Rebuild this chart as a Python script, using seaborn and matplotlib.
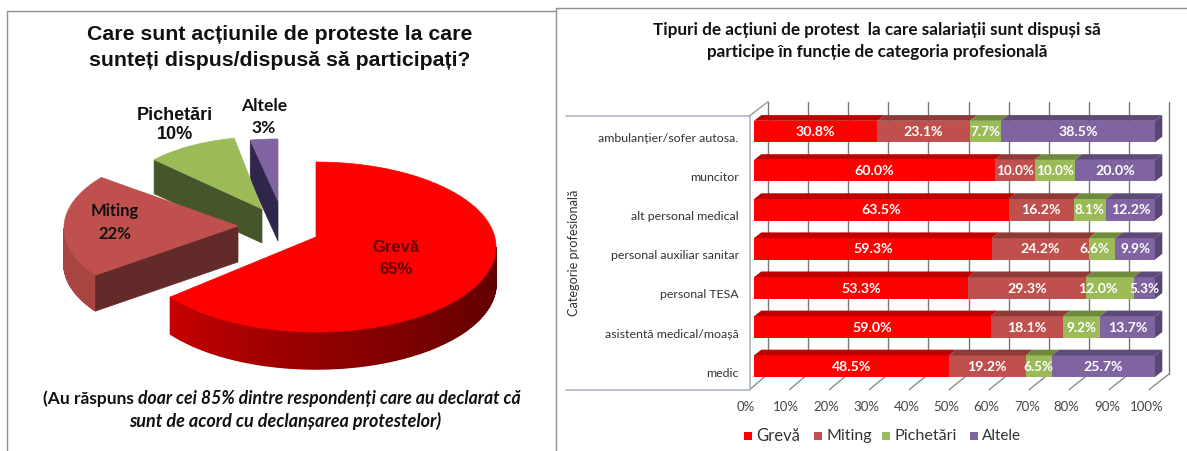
import numpy as np
import matplotlib
matplotlib.use('Agg')
import matplotlib.pyplot as plt
import seaborn as sns
from matplotlib.patches import Polygon, Rectangle
from matplotlib.transforms import ScaledTranslation

# Data
pie_labels = ['Grevă', 'Miting', 'Pichetări', 'Altele']
pie_values = [65, 22, 10, 3]

categories = ['ambulanțier/sofer autosa.', 'muncitor', 'alt personal medical',
              'personal auxiliar sanitar', 'personal TESA',
              'asistentă medical/moașă', 'medic']
greva = [30.8, 60.0, 63.5, 59.3, 53.3, 59.0, 48.5]
miting = [23.1, 10.0, 16.2, 24.2, 29.3, 18.1, 19.2]
pichetari = [7.7, 10.0, 8.1, 6.6, 12.0, 9.2, 6.5]
altele = [38.5, 20.0, 12.2, 9.9, 5.3, 13.7, 25.7]
x_ticks = [0, 10, 20, 30, 40, 50, 60, 70, 80, 90, 100]

series = [greva, miting, pichetari, altele]
colors = ['#ff0000', '#c0504d', '#9bbb59', '#8064a2']
tops = ['#c00000', '#8e3a38', '#6f8a3c', '#5e4a78']
cuts = [None, '#622a28', '#46562a', '#30254a']
rims = [None, '#a84542', '#46562a', '#30254a']

W, H = 1187, 452
sns.set_theme(style='white')
plt.rcParams['font.family'] = ['Lato', 'DejaVu Sans']
fig = plt.figure(figsize=(W / 100, H / 100), dpi=100)

# overlay in pixel coordinates for frames, walls and the pie
bg = fig.add_axes([0, 0, 1, 1], zorder=0)
bg.set_xlim(0, W)
bg.set_ylim(H, 0)
bg.axis('off')

# panel frames
bg.plot([6.5, 6.5, 555.5], [H, 11.5, 11.5], color='#909090', lw=1)
bg.plot([555.5, 555.5, W], [H, 8.5, 8.5], color='#909090', lw=1)


# pie slices
def arc(cx, cy, rx, ry, a, b, n=80):
    t = np.radians(np.linspace(a, b, n))
    return np.column_stack([cx + rx * np.sin(t), cy - ry * np.cos(t)])


# trim = the perspective squeezes the far end of a slice
slices = [
    dict(apex=(316, 238), c=(316, 248), rx=180, ry=85, depth=37, trim=0),
    dict(apex=(238, 227), c=(230, 229), rx=166, ry=80, depth=36, trim=4),
    dict(apex=(262, 210), c=(262, 210), rx=148, ry=72, depth=34, trim=0),
    dict(apex=(278, 202), c=(278, 202), rx=148, ry=62, depth=40, trim=0),
]
angles = np.cumsum([0] + pie_values) * 3.6

for i in [3, 2, 1, 0]:
    s = slices[i]
    a, b = angles[i], angles[i + 1] - s['trim']
    ax0, ay0 = s['apex']
    cx, cy = s['c']
    pts = arc(cx, cy, s['rx'], s['ry'], a, b)
    d = s['depth']

    # outer rim, only on the front half of the ellipse
    lo, hi = max(a, 90), min(b, 270)
    if lo < hi:
        rim = arc(cx, cy, s['rx'], s['ry'], lo, hi, 160)
        for k in range(len(rim) - 1):
            if i == 0:
                f = k / (len(rim) - 2)
                col = (0.38 + 0.40 * f ** 1.5, 0, 0)
            else:
                col = rims[i]
            quad = [rim[k], rim[k + 1], rim[k + 1] + [0, d], rim[k] + [0, d]]
            bg.add_patch(Polygon(quad, fc=col, ec=col, lw=1))

    # cut face on the start edge
    if cuts[i]:
        p = pts[0]
        quad = [(ax0, ay0), p, p + [0, d], (ax0, ay0 + d)]
        bg.add_patch(Polygon(quad, fc=cuts[i], ec=cuts[i], lw=0.5))

    bg.add_patch(Polygon(np.vstack([[ax0, ay0], pts]), fc=colors[i], ec=colors[i], lw=0.5))

# pie labels
pie_text = [(396, 248, 270), (115, 211, 234), (175, 115, 135), (264, 106, 128)]
pie_size = [12, 12, 13, 12.5]
for name, v, (x, y1, y2), fs in zip(pie_labels, pie_values, pie_text, pie_size):
    fam = ['Liberation Sans', 'DejaVu Sans'] if name in ['Grevă', 'Pichetări'] else ['Lato', 'DejaVu Sans']
    tc = '#640000' if name == 'Grevă' else '#111111'
    bg.text(x, y1, name, ha='center', va='center', fontsize=fs, family=fam, color=tc, fontweight='bold')
    bg.text(x, y2, f'{v}%', ha='center', va='center', fontsize=fs, family=fam, color=tc, fontweight='bold')

# left texts
arial = ['Liberation Sans', 'DejaVu Sans']
bg.text(280, 35, 'Care sunt acțiunile de proteste la care', ha='center', va='center',
        fontsize=15.3, fontweight='bold', family=arial, color='#111111')
bg.text(280, 60, 'sunteți dispus/dispusă să participați?', ha='center', va='center',
        fontsize=15.3, fontweight='bold', family=arial, color='#111111')
bg.text(43, 399, '(Au răspuns', ha='left', va='center', fontsize=12.5, fontweight='bold', color='#111111')
bg.text(138, 399, 'doar cei 85% dintre respondenți care au declarat că', ha='left', va='center',
        fontsize=12.7, fontweight='bold', style='italic', color='#111111')
bg.text(285, 421, 'sunt de acord cu declanșarea protestelor)', ha='center', va='center',
        fontsize=13, fontweight='bold', style='italic', color='#111111')

# right title
bg.text(877, 30, 'Tipuri de acțiuni de protest  la care salariații sunt dispuși să', ha='center', va='center',
        fontsize=12.3, fontweight='bold', color='#111111')
bg.text(877, 52, 'participe în funcție de categoria profesională', ha='center', va='center',
        fontsize=12.3, fontweight='bold', color='#111111')

# 3D box behind the bars
x0, x1 = 749.5, 1149.0
bx0, bx1 = 768.0, 1169.0
top_f, bot_f = 117.0, 390.7
top_b, bot_b = 102.7, 375.0
for v in x_ticks:
    xf = x0 + (x1 - x0) * v / 100
    xb = bx0 + (bx1 - bx0) * v / 100
    bg.plot([xb, xb], [top_b, bot_b], color='#777777', lw=1)
    bg.plot([xf, xb], [bot_f, bot_b], color='#8c8c8c', lw=1)
bg.plot([566, x0, x0], [top_f, top_f, bot_f], color='#b0b8c4', lw=1.2)
bg.plot([566, x0], [bot_f, bot_f], color='#b0b8c4', lw=1.2)
bg.plot([x0, bx0], [top_f, top_b], color='#999999', lw=1)

# bars
ax = fig.add_axes([754 / W, 1 - 386.7 / H, 401 / W, (386.7 - 113) / H], zorder=1)
ax.patch.set_visible(False)
left = np.zeros(len(categories))
totals = np.sum(series, axis=0)
for vals, col in zip(series, colors):
    shares = np.array(vals) / totals * 100
    sns.barplot(x=shares, y=categories, left=left, color=col, width=0.55, orient='h',
                errorbar=None, saturation=1, linewidth=0, ax=ax)
    left += shares
ax.set_xlim(0, 100)
ax.set_ylim(6.5, -0.5)
sns.despine(ax=ax, left=True, bottom=True)

# bar depth and value labels
dx = 7.3 / 4.01
dy = 5.7 / 39.1
n_series = len(series)
label_shift = {(2, 3): -2, (2, 4): -3}
for j, bar in enumerate(ax.patches):
    s_i = j // len(categories)
    c_i = j % len(categories)
    bx, by, bw, bh = bar.get_x(), bar.get_y(), bar.get_width(), bar.get_height()
    top = [(bx, by), (bx + bw, by), (bx + bw + dx, by - dy), (bx + dx, by - dy)]
    ax.add_patch(Polygon(top, fc=tops[s_i], ec='none', clip_on=False))
    if s_i == n_series - 1:
        side = [(bx + bw, by), (bx + bw + dx, by - dy), (bx + bw + dx, by + bh - dy), (bx + bw, by + bh)]
        ax.add_patch(Polygon(side, fc='#5a4672', ec='none', clip_on=False))
    raw = series[s_i][c_i]
    ax.text(bx + bw / 2 + label_shift.get((s_i, c_i), 0), by + bh / 2 - 0.01, f'{raw:.1f}%',
            ha='center', va='center', color='white', fontweight='bold',
            fontsize=9.7 if bw < 12 else 10.2, clip_on=False)

# axis text
ax.set_xlabel('')
ax.set_ylabel('')
ax.set_xticks(x_ticks)
ax.set_xticklabels([f'{v}%' for v in x_ticks], fontsize=9.5, color='#444444')
ax.tick_params(axis='both', length=0)
ax.tick_params(axis='x', pad=10)
ax.tick_params(axis='y', pad=11, labelsize=8.9, labelcolor='#333333')
for lab in ax.get_xticklabels():
    lab.set_transform(lab.get_transform() + ScaledTranslation(-8 / 100, 0, fig.dpi_scale_trans))
for lab in ax.get_yticklabels():
    lab.set_transform(lab.get_transform() + ScaledTranslation(0, -5 / 100, fig.dpi_scale_trans))
bg.text(574, 253, 'Categorie profesională', rotation=90, ha='center', va='center',
        fontsize=9.2, color='#333333')

# legend
legend_x = [744, 814, 882, 970]
legend_size = [12, 11.5, 11.6, 11]
for name, col, lx, fs in zip(pie_labels, colors, legend_x, legend_size):
    bg.add_patch(Rectangle((lx, 433), 8, 8, fc=col, ec='none'))
    bg.text(lx + 12, 436, name, ha='left', va='center', fontsize=fs, color='#333333')

fig.savefig('out.png', dpi=100)
